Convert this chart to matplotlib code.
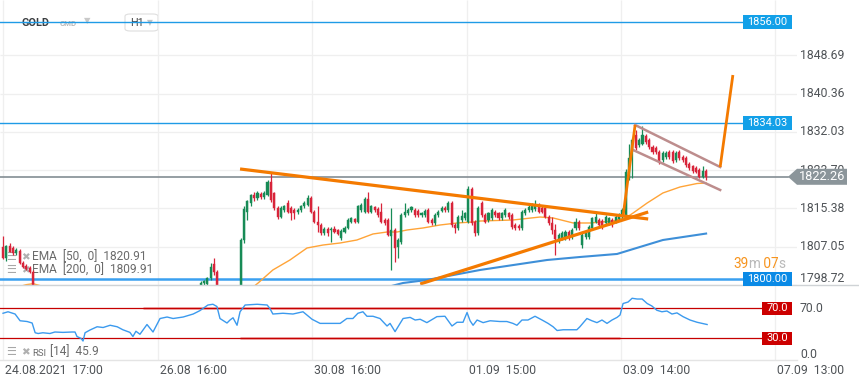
import matplotlib
matplotlib.use("Agg")
import matplotlib.pyplot as plt
from matplotlib.patches import Polygon, FancyBboxPatch, Rectangle
from matplotlib.lines import Line2D
from matplotlib.transforms import Bbox

plt.rcParams['font.family'] = ['Roboto', 'DejaVu Sans']

# ---------------- data (hourly GOLD candles, index 0 = 24.08 17:00) ----------------
opens = [1806.9,1804.6,1807.1,1806.8,1805.6,1806.1,1803.6,1802.9,1802.5,1801.6,
 1796.8,1795.5,1794.0,1792.8,1793.5,1791.9,1790.6,1791.4,1790.2,1789.0,
 1789.8,1788.5,1789.3,1788.1,1787.4,1788.2,1787.0,1786.5,1787.3,1786.1,
 1785.4,1786.0,1785.2,1784.6,1785.5,1786.3,1785.7,1787.0,1788.2,1787.5,
 1788.8,1789.6,1788.9,1790.3,1791.2,1790.5,1791.8,1792.6,1791.9,1793.1,
 1794.0,1793.4,1794.6,1795.3,1794.7,1795.8,1796.4,1795.9,1796.8,1796.2,
 1799.2,1798.9,1800.2,1803.3,1801.5,1798.0,1796.0,1795.3,1796.5,1797.1,
 1795.5,1797.0,1808.5,1814.5,1816.5,1818.3,1817.6,1818.5,1817.8,1818.3,
 1821.2,1818.7,1815.4,1813.5,1815.0,1816.5,1815.4,1815.0,1814.6,1815.0,
 1815.8,1816.1,1817.6,1814.7,1812.5,1811.8,1810.0,1811.0,1810.6,1811.0,
 1810.6,1808.9,1810.3,1811.1,1812.5,1813.0,1812.5,1815.0,1814.7,1817.4,
 1814.7,1815.6,1815.2,1814.7,1812.9,1812.9,1809.3,1810.7,1807.0,1808.0,
 1814.0,1814.3,1815.0,1815.0,1814.8,1814.0,1814.0,1815.0,1812.9,1812.2,
 1813.9,1814.9,1815.4,1815.0,1816.5,1811.8,1811.1,1812.9,1813.2,1812.5,
 1819.5,1812.5,1810.0,1816.5,1813.9,1812.9,1813.2,1814.7,1814.3,1813.2,
 1814.0,1814.3,1813.9,1811.8,1811.6,1811.1,1814.3,1815.0,1815.0,1815.2,
 1816.1,1815.4,1815.4,1813.6,1812.2,1810.7,1808.3,1808.9,1809.0,1810.3,
 1809.2,1811.1,1812.5,1807.4,1809.2,1809.2,1811.1,1812.5,1812.9,1812.7,
 1812.2,1812.2,1812.9,1812.5,1813.0,1813.8,1813.9,1822.0,1827.7,1831.4,
 1829.2,1829.5,1831.2,1830.3,1828.8,1828.5,1827.7,1825.9,1826.6,1827.7,
 1827.7,1825.9,1827.7,1826.6,1826.3,1825.0,1824.5,1824.1,1823.7,1822.3,
 1823.5]
highs = [1809.4,1807.5,1807.8,1807.2,1806.8,1806.6,1804.0,1803.3,1802.9,1802.0,
 1797.4,1796.1,1794.6,1794.1,1793.9,1792.3,1791.9,1791.8,1790.6,1790.3,
 1790.2,1789.8,1789.7,1788.5,1788.7,1788.6,1787.4,1787.8,1787.7,1786.5,
 1786.5,1786.4,1785.6,1786.0,1786.8,1786.7,1787.5,1788.7,1788.6,1789.3,
 1790.1,1790.0,1790.8,1791.7,1791.6,1792.3,1793.1,1793.0,1793.6,1794.5,
 1794.4,1795.1,1795.8,1795.7,1796.3,1796.9,1796.8,1797.3,1797.2,1799.5,
 1799.8,1800.5,1803.4,1804.7,1802.0,1798.5,1797.2,1796.9,1797.6,1797.9,
 1797.4,1809.0,1815.8,1817.2,1818.6,1819.0,1819.1,1818.9,1819.2,1821.5,
 1823.0,1819.0,1815.8,1815.8,1816.2,1817.2,1815.8,1815.4,1815.4,1816.2,
 1816.9,1818.4,1818.0,1815.0,1815.8,1812.2,1811.4,1811.4,1811.4,1811.5,
 1811.0,1810.8,1811.6,1813.3,1813.6,1813.4,1816.2,1816.5,1817.8,1819.0,
 1816.2,1816.0,1815.6,1816.5,1813.3,1813.3,1815.4,1811.1,1808.9,1814.4,
 1816.5,1815.4,1816.0,1815.4,1815.2,1814.6,1815.2,1815.4,1813.3,1814.3,
 1815.1,1815.8,1815.8,1817.0,1816.9,1812.2,1813.9,1815.0,1814.7,1820.3,
 1820.0,1812.9,1815.8,1817.0,1814.3,1814.7,1815.4,1815.1,1814.7,1814.7,
 1815.4,1814.7,1814.3,1812.2,1812.0,1815.1,1815.4,1816.1,1816.5,1817.2,
 1816.5,1815.8,1815.8,1814.0,1813.5,1812.0,1810.0,1810.4,1810.7,1810.7,
 1811.1,1813.2,1812.9,1810.0,1810.4,1811.7,1813.6,1814.7,1813.3,1813.1,
 1814.0,1813.6,1813.3,1814.0,1814.3,1815.4,1824.0,1829.5,1830.8,1832.4,
 1830.7,1833.3,1831.6,1830.7,1829.2,1828.9,1828.1,1827.8,1827.8,1828.1,
 1828.1,1827.8,1828.1,1827.0,1826.7,1825.4,1824.9,1824.5,1824.1,1824.5,
 1823.9]
lows = [1804.3,1804.0,1805.8,1805.3,1805.2,1803.2,1802.4,1801.9,1801.3,1796.0,
 1795.0,1793.6,1792.3,1792.4,1791.4,1790.1,1790.2,1789.7,1788.5,1788.6,
 1788.0,1788.1,1787.6,1786.9,1787.0,1786.5,1786.0,1786.1,1785.6,1784.9,
 1785.0,1784.7,1784.1,1784.2,1785.1,1785.2,1785.3,1786.6,1787.0,1787.1,
 1788.4,1788.4,1788.5,1789.9,1790.0,1790.1,1791.4,1791.4,1791.5,1792.7,
 1792.9,1793.0,1794.2,1794.2,1794.3,1795.4,1795.4,1795.5,1795.7,1795.8,
 1798.5,1798.4,1799.9,1801.0,1797.0,1795.5,1794.8,1794.6,1795.6,1795.0,
 1794.9,1796.6,1807.9,1812.8,1816.0,1817.1,1817.2,1817.4,1817.4,1818.0,
 1816.8,1815.0,1813.0,1813.2,1814.7,1814.4,1812.9,1813.0,1814.2,1814.7,
 1815.4,1815.8,1814.3,1812.1,1810.3,1809.6,1809.6,1809.3,1808.0,1810.0,
 1809.5,1808.5,1810.0,1810.8,1812.1,1812.1,1812.1,1814.6,1814.3,1814.3,
 1814.3,1814.7,1813.6,1812.1,1811.8,1809.3,1802.0,1803.7,1804.5,1807.6,
 1813.6,1813.9,1814.6,1813.6,1813.6,1813.5,1813.6,1812.1,1811.8,1811.8,
 1813.5,1814.5,1814.6,1814.6,1811.4,1810.0,1810.7,1812.5,1812.8,1812.1,
 1811.8,1809.3,1809.6,1813.5,1812.1,1812.5,1812.8,1813.6,1812.8,1812.8,
 1813.6,1813.1,1811.0,1810.7,1810.7,1810.7,1813.9,1814.6,1814.6,1814.8,
 1814.3,1814.3,1813.2,1811.8,1809.8,1805.2,1807.9,1808.5,1808.6,1808.6,
 1808.8,1810.7,1810.7,1806.8,1808.8,1808.8,1810.7,1812.1,1811.4,1811.0,
 1811.8,1811.8,1811.4,1812.1,1812.6,1813.4,1813.5,1821.6,1822.0,1828.1,
 1828.8,1829.1,1829.5,1828.4,1827.2,1827.3,1825.1,1825.5,1826.2,1826.2,
 1825.3,1825.5,1825.9,1825.5,1824.4,1823.7,1823.1,1823.0,1821.9,1821.9,
 1821.6]
closes = [1804.6,1807.1,1806.0,1805.6,1806.3,1803.5,1802.7,1802.2,1801.6,1796.8,
 1795.5,1794.0,1792.8,1793.5,1791.9,1790.6,1791.4,1790.2,1789.0,1789.8,
 1788.5,1789.3,1788.1,1787.4,1788.2,1787.0,1786.5,1787.3,1786.1,1785.4,
 1786.0,1785.2,1784.6,1785.5,1786.3,1785.7,1787.0,1788.2,1787.5,1788.8,
 1789.6,1788.9,1790.3,1791.2,1790.5,1791.8,1792.6,1791.9,1793.1,1794.0,
 1793.4,1794.6,1795.3,1794.7,1795.8,1796.4,1795.9,1796.8,1796.2,1799.2,
 1799.4,1800.2,1802.7,1801.5,1798.0,1796.0,1795.3,1796.5,1797.1,1795.5,
 1797.0,1808.5,1815.3,1816.9,1818.3,1817.6,1818.7,1817.8,1818.8,1821.2,
 1817.2,1815.4,1813.5,1815.4,1815.8,1814.7,1814.3,1814.3,1815.0,1815.8,
 1816.5,1817.6,1814.7,1812.5,1811.8,1810.0,1811.0,1810.0,1811.0,1810.3,
 1809.8,1810.5,1811.2,1812.9,1813.2,1812.5,1815.8,1816.1,1817.4,1814.7,
 1815.8,1815.0,1814.0,1812.5,1812.2,1809.6,1810.7,1806.7,1808.5,1814.0,
 1814.7,1815.0,1815.6,1814.0,1814.0,1814.3,1814.8,1812.5,1812.2,1813.9,
 1814.7,1815.4,1815.0,1816.5,1811.8,1811.1,1813.5,1813.7,1814.3,1819.5,
 1812.2,1810.0,1815.4,1813.9,1812.5,1814.3,1815.0,1814.0,1813.2,1814.3,
 1815.0,1813.5,1811.4,1811.1,1811.1,1814.7,1815.0,1815.7,1816.1,1816.1,
 1814.7,1814.7,1813.6,1812.2,1810.7,1808.8,1809.6,1810.0,1810.3,1809.0,
 1810.7,1812.5,1811.1,1809.6,1810.0,1811.3,1813.2,1813.6,1811.8,1811.4,
 1813.6,1813.2,1811.8,1813.6,1813.9,1815.0,1823.4,1826.3,1830.3,1828.5,
 1830.3,1831.4,1829.9,1828.8,1827.6,1827.7,1825.5,1827.4,1827.4,1826.6,
 1825.7,1827.4,1826.3,1825.9,1824.8,1824.1,1823.5,1823.4,1822.3,1823.5,
 1822.26]

# EMA lines: (bar index, value)
ema50_idx = [0, 4, 7, 9, 11, 20, 40, 60, 70, 76.2, 80.6, 85.7, 90.8, 95.6, 100.7, 105.7,
             110.5, 114.7, 117.7, 120.7, 125.4, 130.5, 135.6, 140.4, 142.5, 152.3, 160.4,
             164.3, 170.3, 175.3, 182.2, 186.4, 188.2, 192.4, 197.1, 202.2, 207.3, 210]
ema50_val = [1797.5, 1798.2, 1798.8, 1799.0, 1798.6, 1796.0, 1793.0, 1794.0, 1795.5, 1799.16,
             1801.99, 1804.16, 1806.77, 1807.42, 1807.86, 1808.51, 1809.82, 1810.25, 1810.25,
             1810.69, 1811.12, 1811.77, 1812.21, 1812.43, 1812.64, 1812.86, 1813.51, 1813.30,
             1812.21, 1812.21, 1812.64, 1813.51, 1814.38, 1816.56, 1818.74, 1820.04, 1820.80,
             1820.91]
ema200_idx = [0, 60, 100, 115, 119.5, 126.6, 142.5, 162.5, 172.3, 183.4, 187.3, 197.1, 210]
ema200_val = [1796.0, 1794.5, 1797.0, 1798.3, 1799.16, 1799.81, 1801.99, 1804.16, 1804.81,
              1805.47, 1806.34, 1808.51, 1809.91]

rsi_idx = [0, 1.5, 3.6, 5.1, 7.2, 8.7, 9.6, 10.5, 11.9, 14.0, 15.5, 17.9, 20.6, 21.5, 22.1,
           23.3, 23.9, 24.5, 26.0, 28.1, 29.9, 32.0, 34.1, 35.8, 37.9, 38.8, 39.7, 40.9,
           43.0, 44.8, 46.9, 49.0, 50.8, 53.8, 56.8, 58.8, 61.2, 62.7, 63.9, 64.8, 66.9,
           67.8, 68.7, 69.9, 70.8, 72.3, 75.9, 78.9, 79.7, 80.6, 83.6, 86.6, 89.6, 92.3,
           94.7, 97.7, 100.7, 102.7, 104.5, 106.0, 107.5, 108.7, 110.5, 112.6, 114.7, 115.6,
           117.1, 118.6, 119.5, 121.6, 123.1, 124.6, 126.6, 129.6, 132.0, 134.1, 135.6,
           137.4, 138.6, 139.5, 140.4, 141.6, 143.4, 145.5, 148.4, 150.5, 152.3, 153.5,
           155.0, 156.8, 158.9, 161.0, 162.8, 164.3, 165.5, 167.3, 169.4, 171.4, 172.3,
           174.4, 175.9, 177.4, 178.9, 180.4, 181.9, 183.4, 184.3, 185.2, 186.7, 187.9,
           189.4, 190.9, 192.4, 193.8, 195.3, 196.8, 198.3, 199.8, 201.3, 203.1, 205.2,
           207.3, 208.8, 210.3]
rsi_val = [63, 65, 62, 53, 52, 50, 37, 36, 37, 36, 38, 37.5, 38, 38, 32, 29.5, 26, 37, 40.7,
           45, 44, 47, 45, 41, 37.5, 32, 39, 35, 48, 38, 56, 58, 56, 58, 62, 66.5, 74, 75,
           72, 56, 50, 54, 57, 47, 65, 74, 75, 74, 69.5, 62, 63, 62, 65, 55, 49.5, 49.5,
           49.5, 56, 56, 63, 65, 59, 59, 56, 46, 49.5, 38.5, 49.5, 56, 57.5, 54, 55, 50.5,
           58.5, 59, 46, 51, 51, 64, 53, 47, 54, 50.5, 53, 52, 52, 49.5, 47, 54, 54, 59,
           54, 49.5, 45, 40, 41, 41, 41, 45, 56, 53, 50.5, 54, 49.5, 54, 57.5, 60.7, 76,
           78, 83, 82, 82, 76, 72.7, 67, 65, 66, 62, 63.5, 58.5, 54, 51, 49.5, 48]

price_ticks = [1798.72, 1807.05, 1815.38, 1823.70, 1832.03, 1840.36, 1848.69]
time_tick_idx = [0, 46.3, 92.3, 138.6, 184.6, 230.6]
time_tick_labels = ["24.08.2021  17:00", "26.08  16:00", "30.08  16:00",
                    "01.09  15:00", "03.09  14:00", "07.09  13:00"]
level_lines = [1856.00, 1834.03, 1800.00]
last_price = 1822.26
ema50_last, ema200_last, rsi_last = 1820.91, 1809.91, 45.9

# drawn annotations (bar index, price)
res_line = [(70.8, 1823.96), (192.7, 1813.08)]
sup_line = [(124.6, 1798.94), (192.7, 1814.60)]
pole_line = [(185.2, 1813.73), (188.8, 1833.53)]
target_line = [(214.2, 1824.39), (218.0, 1844.40)]
chan_up = [(188.8, 1833.53), (214.2, 1824.39)]
chan_dn = [(188.2, 1828.09), (214.2, 1819.39)]

# ---------------- figure ----------------
W, H = 859, 385
fig = plt.figure(figsize=(W / 100, H / 100), dpi=100)
fig.patch.set_facecolor('white')

def fx(x): return x / W
def fy(y): return 1 - y / H

YTOP, YBOT = 1860.72, 1798.72
XL = (-0.9, 237.15)
ax = fig.add_axes([0, fy(285), 797 / W, 285 / H])
rax = fig.add_axes([0, fy(360.5), 797 / W, 75.5 / H])
for a in (ax, rax):
    a.set_xlim(*XL)
    for s in a.spines.values():
        s.set_visible(False)
    a.set_xticks([]); a.set_yticks([])
    a.patch.set_alpha(0)
ax.set_ylim(YBOT, YTOP)
rax.set_ylim(0, 100.7)

def ypx(p):
    return (YTOP - p) / (YTOP - YBOT) * 285

GRID = '#efefef'
ax.hlines(price_ticks, XL[0], XL[1], colors=GRID, lw=0.9, zorder=0)
ax.vlines(time_tick_idx, YBOT, YTOP, colors=GRID, lw=0.9, zorder=0)
rax.vlines(time_tick_idx, 0, 100.7, colors=GRID, lw=0.9, zorder=0)

# level lines
ytr = ax.get_yaxis_transform()
for lv in level_lines:
    lw = 1.8 if lv == 1800.00 else 1.0
    col = '#3aa0f0' if lv == 1800.00 else '#1f9be6'
    ax.plot([0, 743 / 797], [lv, lv], color=col, lw=lw, transform=ytr, zorder=1)
ax.plot([0, 788 / 797], [last_price, last_price], color='#838d93', lw=1.2, transform=ytr, zorder=1)

# EMAs
ax.plot(ema200_idx, ema200_val, color='#3e8fd8', lw=1.5, zorder=2)
ax.plot(ema50_idx, ema50_val, color='#ffa438', lw=1.0, zorder=2)

# candles
UP, DN = '#178b56', '#d8243a'
idx = list(range(len(closes)))
cols = [UP if c >= o else DN for o, c in zip(opens, closes)]
ax.vlines(idx, lows, highs, colors=cols, lw=0.9, zorder=3)
bottoms = [min(o, c) for o, c in zip(opens, closes)]
heights = [max(abs(c - o), 0.3) for o, c in zip(opens, closes)]
ax.bar(idx, heights, bottom=bottoms, width=0.62, color=cols, edgecolor=cols, lw=0.3, zorder=4)

# trend lines
ORANGE = '#f47a00'
for ln, lw in ((res_line, 2.3), (sup_line, 2.3), (pole_line, 2.0), (target_line, 2.0)):
    ax.plot([p[0] for p in ln], [p[1] for p in ln], color=ORANGE, lw=lw, zorder=6,
            solid_capstyle='butt')
for ln in (chan_up, chan_dn):
    ax.plot([p[0] for p in ln], [p[1] for p in ln], color='#bd8d8d', lw=1.8, zorder=5)

# RSI panel
rtr = rax.get_yaxis_transform()
for lvl, start in ((70, 143), (30, 240)):
    rax.plot([start / 797, 620 / 797], [lvl, lvl], color='#f0a3a3', lw=1.9, transform=rtr,
             zorder=1, solid_capstyle='butt')
    rax.plot([0, 762 / 797], [lvl, lvl], color='#c60000', lw=0.9, transform=rtr, zorder=2)
rax.plot(rsi_idx, rsi_val, color='#3b9aee', lw=1.0, zorder=3)

# panel borders
fig.add_artist(Line2D([0, 1], [fy(284.8)] * 2, color='#cfd3d6', lw=1.0, transform=fig.transFigure))
fig.add_artist(Line2D([0, fx(797)], [fy(359.8)] * 2, color='#e4e4e4', lw=1.0, transform=fig.transFigure))

# right axis labels
LAB = '#4f5357'
tag_top_px = ypx(last_price) - 8
for p in price_ticks:
    y = min(ypx(p), 278.3)
    t = fig.text(fx(800), fy(y), f"{p:.2f}", fontsize=8.8, color=LAB, va='center', ha='left')
    if abs(ypx(p) - ypx(last_price)) < 12:
        # partly hidden behind the last-price tag, as in the original
        t.set_clip_box(Bbox([[0, fy(tag_top_px) * H], [W, H]]))
        t.set_clip_on(True)
for r in (70, 0):
    y = min(360.5 - r * 0.75, 354)
    fig.text(fx(800), fy(y), f"{r:.1f}", fontsize=8.8, color=LAB, va='center', ha='left')

def box(x0, x1, yc, h, color, text, tsize=7.9):
    fig.add_artist(Rectangle((fx(x0), fy(yc + h / 2)), (x1 - x0) / W, h / H,
                             transform=fig.transFigure, facecolor=color, edgecolor='none', zorder=5))
    fig.text(fx((x0 + x1) / 2), fy(yc), text, color='white', fontsize=tsize,
             ha='center', va='center', zorder=6)

box(743, 792, ypx(1856.00), 14, '#12a0e8', "1856.00")
box(743, 792, ypx(1834.03), 14, '#12a0e8', "1834.03")
box(743, 792, ypx(1800.00), 14, '#0a8ae6', "1800.00")
box(762, 792, 360.5 - 70 * 0.75, 13, '#cc0000', "70.0")
box(762, 792, 360.5 - 30 * 0.75, 13, '#cc0000', "30.0")

yc = ypx(last_price)
tagpts = [(788, yc), (797, yc - 8), (847, yc - 8), (847, yc + 8), (797, yc + 8)]
fig.add_artist(Polygon([(fx(x), fy(y)) for x, y in tagpts], closed=True, transform=fig.transFigure,
                       facecolor='#8b959a', edgecolor='none', zorder=5))
fig.text(fx(822), fy(yc), f"{last_price:.2f}", color='white', fontsize=9.2, ha='center',
         va='center', zorder=6)

# time labels
for t, lab in zip(time_tick_idx, time_tick_labels):
    xp = 3 + t * 3.348
    fig.text(fx(xp + 2), fy(370), lab, fontsize=8.8, color=LAB, ha='left', va='center')

# countdown text
r = fig.canvas.get_renderer()
xcur = 733
for s, c in (("39", '#f7941d'), ("m", '#b9b9b9'), (" 07", '#f7941d'), ("s", '#b9b9b9')):
    t = fig.text(fx(xcur), fy(264), s, color=c, fontsize=9.8, ha='left', va='center', zorder=6)
    xcur += t.get_window_extent(renderer=r).width

# header (drawn under chart content)
fig.text(fx(21), fy(23), "GOLD", fontsize=7.8, fontweight='bold', color='#3a3d40', va='center', zorder=-1)
fig.text(fx(60), fy(23.5), "CMD", fontsize=5.6, fontweight='bold', color='#b8b8b8', va='center', zorder=-1)
fig.text(fx(84), fy(21), "▼", fontsize=6, color='#c9c9c9', va='center', family='DejaVu Sans', zorder=-1)
fig.add_artist(FancyBboxPatch((fx(125), fy(31)), 33 / W, 17 / H, boxstyle="round,pad=0,rounding_size=0.006",
                              transform=fig.transFigure, facecolor='white', edgecolor='#dedede', lw=0.8, zorder=-2))
fig.text(fx(130), fy(22.5), "H1", fontsize=7.8, color='#444', va='center', zorder=-1)
fig.text(fx(147), fy(23), "▼", fontsize=5.5, color='#c4c4c4', va='center', family='DejaVu Sans', zorder=-1)

# legends (under candles)
LG = '#6b6b6b'
for yy, txt in ((257, f"EMA  [50,  0]  {ema50_last:.2f}"), (270, f"EMA  [200,  0]  {ema200_last:.2f}")):
    fig.text(fx(6), fy(yy), "☰", fontsize=8, color='#a8a8a8', va='center', family='DejaVu Sans', zorder=-1)
    fig.text(fx(21), fy(yy), "✖", fontsize=7.5, color='#b0b0b0', va='center', family='DejaVu Sans', zorder=-1)
    fig.text(fx(32), fy(yy), txt, fontsize=8.6, color=LG, va='center', zorder=-1)
fig.text(fx(6), fy(352), "☰", fontsize=8, color='#a8a8a8', va='center', family='DejaVu Sans', zorder=-1)
fig.text(fx(21), fy(352), "✖", fontsize=7.5, color='#b0b0b0', va='center', family='DejaVu Sans', zorder=-1)
fig.text(fx(32), fy(353), "RSI", fontsize=6.8, color=LG, va='center', zorder=-1)
fig.text(fx(50), fy(352), f"[14]  {rsi_last}", fontsize=8.6, color=LG, va='center', zorder=-1)

fig.savefig("out.png", dpi=100, facecolor='white')
